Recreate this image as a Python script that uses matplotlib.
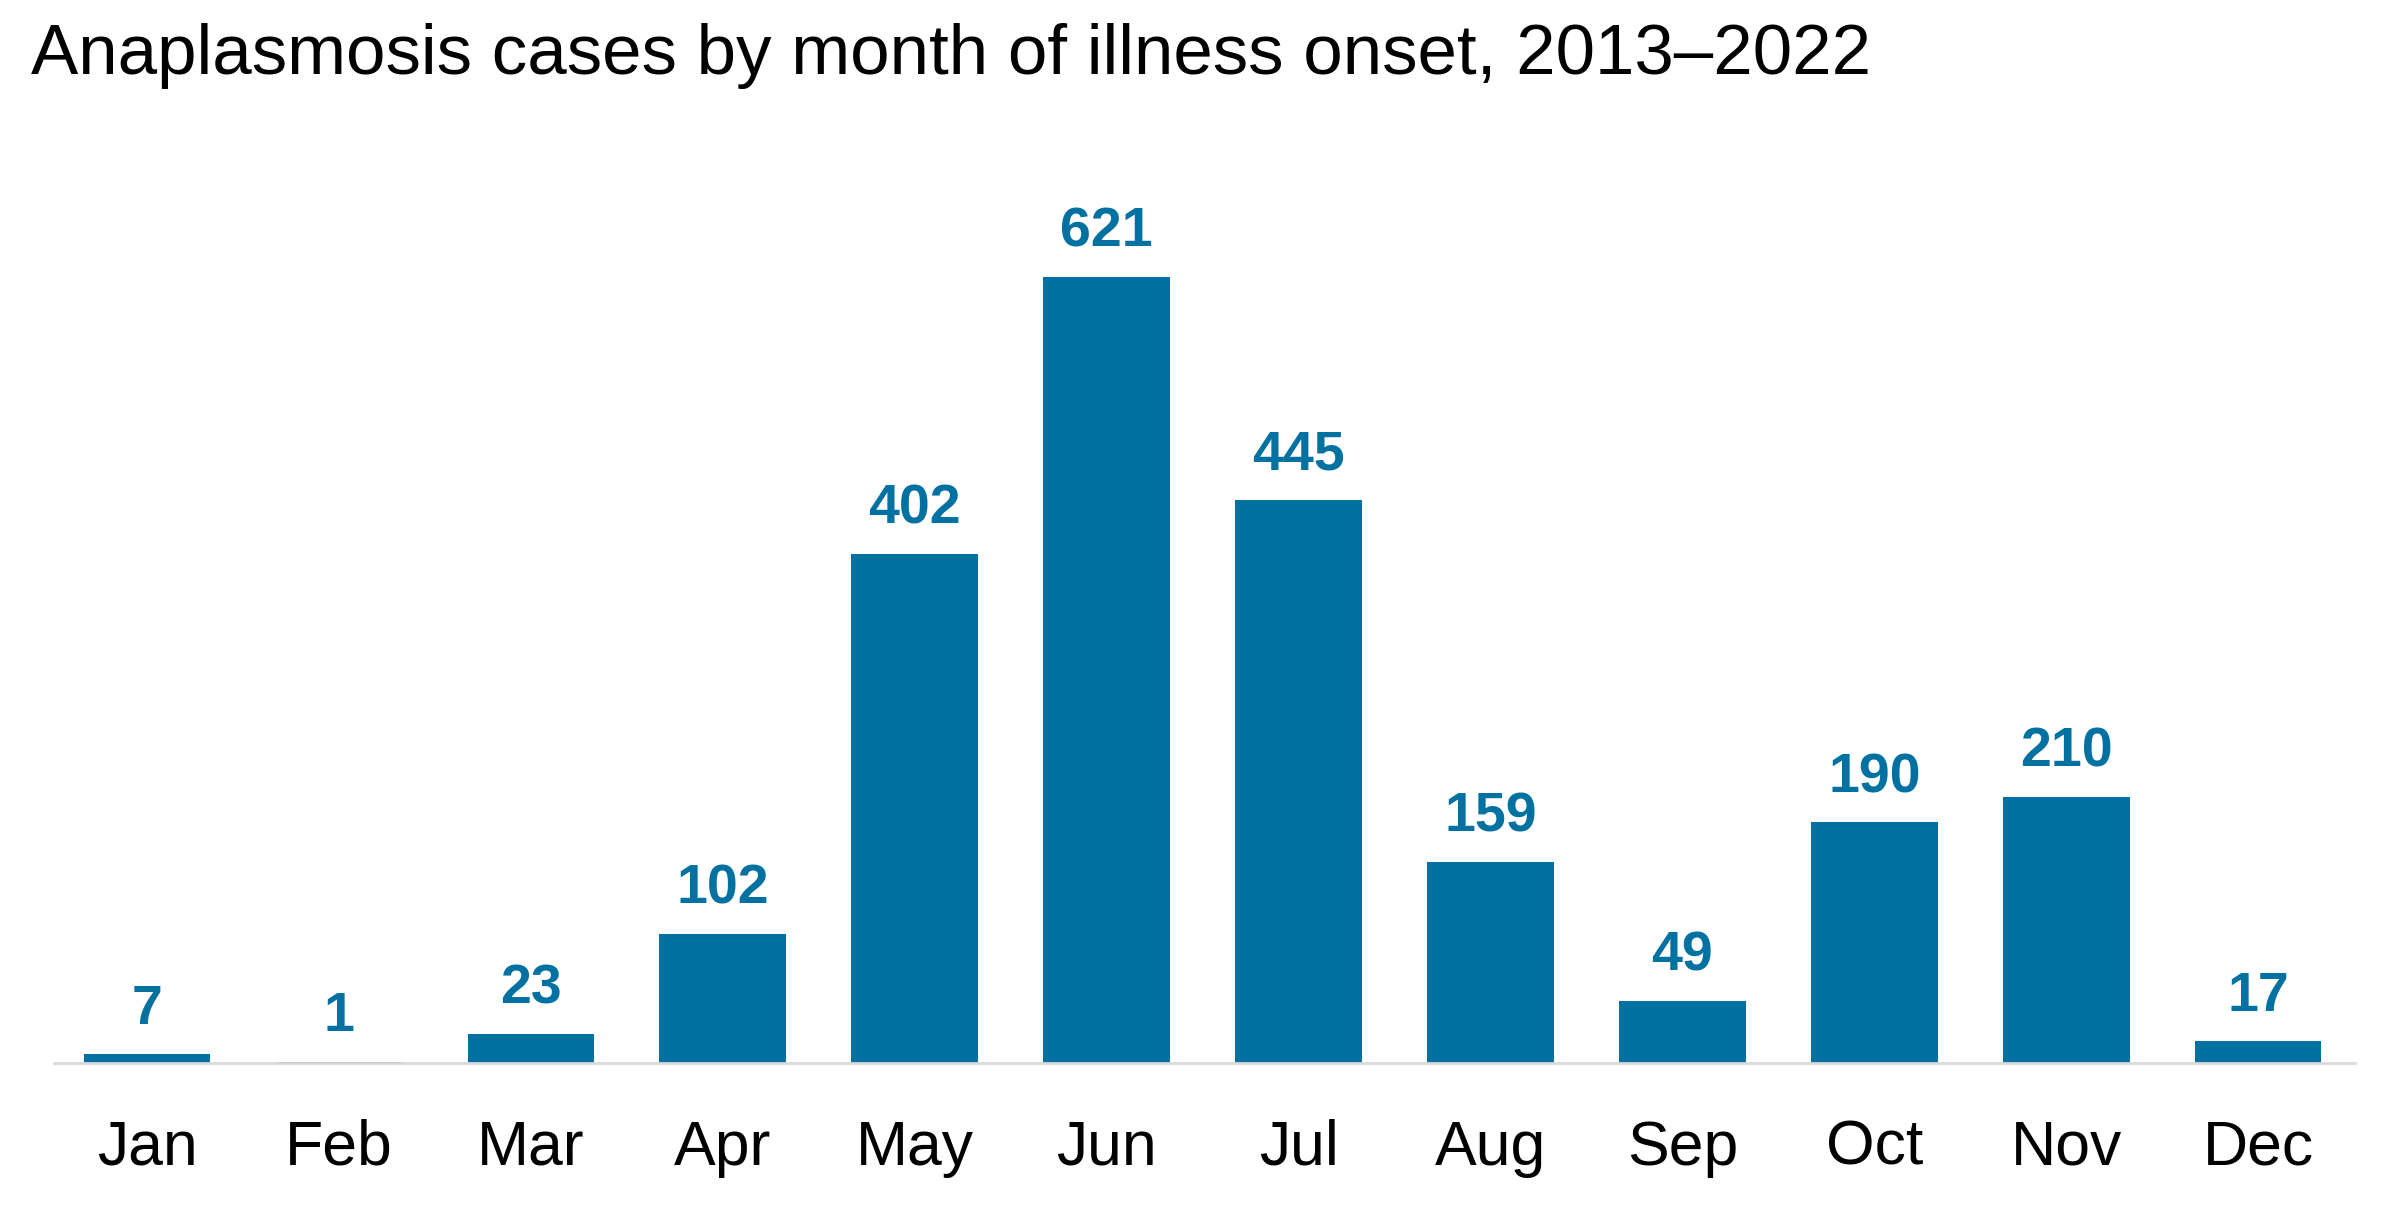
import matplotlib.pyplot as plt

months = ["Jan", "Feb", "Mar", "Apr", "May", "Jun",
          "Jul", "Aug", "Sep", "Oct", "Nov", "Dec"]
cases = [7, 1, 23, 102, 402, 621, 445, 159, 49, 190, 210, 17]

plt.rcParams["font.family"] = ["Liberation Sans", "DejaVu Sans"]

blue = "#0071a1"

fig = plt.figure(figsize=(24.08, 12.06), dpi=100)
# axes box in pixels: left 54, right 2355, bottom 1063, top ~150
ax = fig.add_axes([54 / 2408, 1 - 1063 / 1206, (2355 - 54) / 2408, (1063 - 150) / 1206])

x = range(len(months))
bars = ax.bar(x, cases, width=0.66, color=blue)

for b, v in zip(bars, cases):
    ax.text(b.get_x() + b.get_width() / 2, v + 24, str(v), ha="center", va="baseline",
            fontsize=40, fontweight="bold", color=blue)

ax.set_xlim(-0.485, 11.505)
ax.set_ylim(0, 913 / 1.266)
ax.set_xticks(list(x))
ax.set_xticklabels(months, fontsize=45)
ax.tick_params(axis="x", length=0, pad=40)
ax.set_yticks([])
for s in ["top", "right", "left"]:
    ax.spines[s].set_visible(False)
ax.spines["bottom"].set_color("#d9d9d9")
ax.spines["bottom"].set_linewidth(2)

fig.text(31 / 2408, 1 - 74 / 1206, "Anaplasmosis cases by month of illness onset, 2013\u20132022",
         fontsize=51, ha="left", va="baseline", color="black")

fig.savefig("out.png", dpi=100)
